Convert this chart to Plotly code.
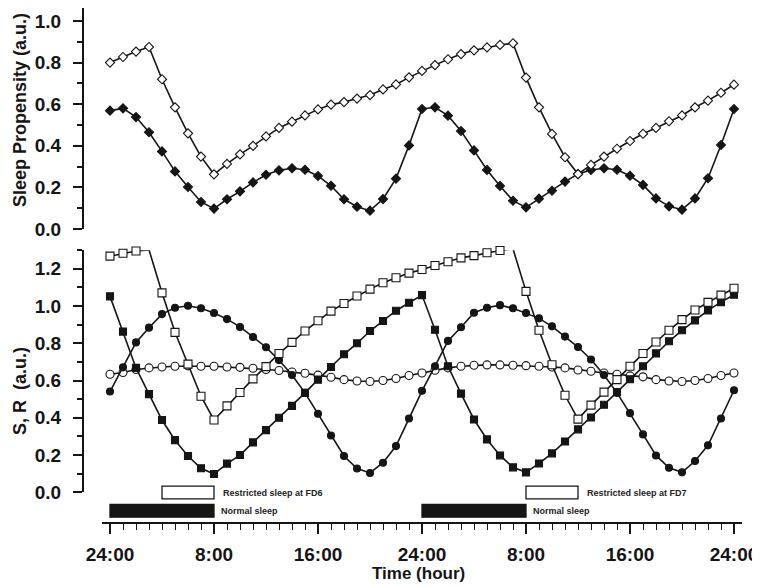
"""Sleep propensity and S/R processes over two days (FD6, FD7)."""

import plotly.graph_objects as go

HOURS = list(range(49))
TICK_HOURS = [0, 8, 16, 24, 32, 40, 48]
TICK_LABELS = ["24:00", "8:00", "16:00", "24:00", "8:00", "16:00", "24:00"]

# top panel: sleep propensity
SP_RESTRICTED = [
    0.800, 0.827, 0.853, 0.875, 0.720, 0.585, 0.460, 0.348, 0.263, 0.313,
    0.359, 0.400, 0.445, 0.486, 0.516, 0.546, 0.575, 0.598, 0.610, 0.627,
    0.644, 0.671, 0.695, 0.729, 0.760, 0.788, 0.816, 0.841, 0.859, 0.873,
    0.885, 0.893, 0.728, 0.585, 0.457, 0.345, 0.264, 0.308, 0.348, 0.386,
    0.423, 0.458, 0.486, 0.518, 0.546, 0.585, 0.617, 0.655, 0.694,
]
SP_NORMAL = [
    0.569, 0.580, 0.538, 0.465, 0.373, 0.277, 0.202, 0.130, 0.098, 0.143,
    0.181, 0.224, 0.261, 0.282, 0.292, 0.285, 0.255, 0.208, 0.143, 0.107,
    0.088, 0.144, 0.242, 0.402, 0.577, 0.585, 0.545, 0.471, 0.378, 0.284,
    0.207, 0.136, 0.104, 0.146, 0.184, 0.228, 0.264, 0.284, 0.292, 0.285,
    0.256, 0.212, 0.147, 0.109, 0.093, 0.147, 0.244, 0.404, 0.577,
]

# bottom panel: S and R
S_RESTRICTED = [
    1.268, 1.284, 1.296, 1.302, 1.071, 0.859, 0.688, 0.516, 0.388, 0.464,
    0.536, 0.609, 0.675, 0.745, 0.805, 0.866, 0.921, 0.973, 1.014, 1.054,
    1.091, 1.125, 1.152, 1.177, 1.196, 1.218, 1.238, 1.259, 1.271, 1.286,
    1.298, 1.307, 1.079, 0.870, 0.685, 0.521, 0.393, 0.468, 0.538, 0.605,
    0.677, 0.745, 0.807, 0.870, 0.927, 0.979, 1.020, 1.059, 1.096,
]
S_NORMAL = [
    1.052, 0.863, 0.668, 0.527, 0.388, 0.280, 0.195, 0.129, 0.098, 0.154,
    0.200, 0.268, 0.334, 0.400, 0.464, 0.534, 0.605, 0.673, 0.741, 0.800,
    0.866, 0.920, 0.975, 1.018, 1.059, 0.873, 0.677, 0.530, 0.391, 0.284,
    0.198, 0.134, 0.107, 0.155, 0.209, 0.273, 0.338, 0.402, 0.470, 0.538,
    0.607, 0.677, 0.746, 0.811, 0.870, 0.923, 0.977, 1.021, 1.061,
]
R_FILLED = [
    0.541, 0.671, 0.805, 0.884, 0.957, 0.991, 1.002, 0.988, 0.963, 0.930,
    0.888, 0.834, 0.779, 0.710, 0.630, 0.534, 0.422, 0.305, 0.195, 0.128,
    0.104, 0.159, 0.248, 0.396, 0.545, 0.677, 0.813, 0.886, 0.964, 0.991,
    1.005, 0.988, 0.963, 0.934, 0.891, 0.836, 0.780, 0.713, 0.630, 0.534,
    0.425, 0.311, 0.198, 0.132, 0.107, 0.168, 0.252, 0.396, 0.548,
]
R_OPEN = [
    0.634, 0.643, 0.659, 0.668, 0.673, 0.677, 0.679, 0.677, 0.677, 0.673,
    0.671, 0.666, 0.659, 0.654, 0.646, 0.639, 0.629, 0.618, 0.605, 0.598,
    0.595, 0.600, 0.611, 0.627, 0.641, 0.655, 0.668, 0.677, 0.682, 0.684,
    0.684, 0.682, 0.680, 0.677, 0.673, 0.668, 0.657, 0.650, 0.641, 0.634,
    0.625, 0.620, 0.605, 0.598, 0.595, 0.600, 0.611, 0.627, 0.641,
]

# sleep episodes (hour of start, duration)
SLEEP_ROWS = ["Normal sleep", "Restricted sleep"]
NORMAL_START = [0, 24]
NORMAL_LEN = [8, 8]
NORMAL_LABELS = ["Normal sleep", "Normal sleep"]
RESTRICTED_START = [4, 32]
RESTRICTED_LEN = [4, 4]
RESTRICTED_LABELS = ["Restricted sleep at FD6", "Restricted sleep at FD7"]

INK = "#151515"
FONT = "Liberation Sans, Arial, sans-serif"

# the page body keeps its default 8px margin, so the figure is a bit smaller
# and window pixels are converted to paper coordinates here
W, H = 752, 577


def px_x(x):
    return (x - 8) / W


def px_y(y):
    return min(1.0, (585 - y) / H)


def line_trace(values, yaxis, symbol, size, filled):
    """Чёрная линия с маркерами (закрашенными или пустыми)."""
    return go.Scatter(
        x=HOURS,
        y=values,
        yaxis=yaxis,
        mode="lines+markers",
        line={"color": INK, "width": 1.6},
        marker={
            "symbol": symbol,
            "size": size,
            "color": INK if filled else "white",
            "line": {"color": INK, "width": 1.1},
        },
        cliponaxis=False,
        showlegend=False,
        hoverinfo="skip",
    )


def sleep_bar(row, starts, lengths, filled):
    return go.Bar(
        orientation="h",
        y=[row] * len(starts),
        x=lengths,
        base=starts,
        yaxis="y3",
        width=0.7,
        marker={"color": INK if filled else "white", "line": {"color": INK, "width": 1.3}},
        showlegend=False,
        hoverinfo="skip",
    )


def y_axis(domain, rng):
    return dict(
        domain=domain,
        range=rng,
        anchor="free",
        position=px_x(83),
        showline=True,
        linecolor=INK,
        linewidth=2,
        showgrid=False,
        zeroline=False,
        ticks="outside",
        ticklen=9,
        tickwidth=1.5,
        tickcolor=INK,
        dtick=0.2,
        tick0=0,
        tickformat=".1f",
        ticklabelstandoff=8,
        tickfont={"family": FONT, "size": 19, "color": INK, "weight": "bold"},
        minor={"dtick": 0.1, "ticks": "outside", "ticklen": 5, "tickwidth": 1.5,
               "tickcolor": INK, "showgrid": False},
    )


traces = [
    line_trace(SP_NORMAL, "y", "diamond", 7, True),
    line_trace(SP_RESTRICTED, "y", "diamond", 7, False),
    line_trace(R_OPEN, "y2", "circle", 8, False),
    line_trace(R_FILLED, "y2", "circle", 7, True),
    line_trace(S_NORMAL, "y2", "square", 7, True),
    line_trace(S_RESTRICTED, "y2", "square", 8, False),
    sleep_bar(SLEEP_ROWS[0], NORMAL_START, NORMAL_LEN, True),
    sleep_bar(SLEEP_ROWS[1], RESTRICTED_START, RESTRICTED_LEN, False),
]

fig = go.Figure(traces)

label_font = {"family": FONT, "size": 9, "color": "#222", "weight": "bold"}
annotations = []
for start, length, text in zip(NORMAL_START, NORMAL_LEN, NORMAL_LABELS):
    annotations.append(dict(x=start + length, y=SLEEP_ROWS[0], xref="x", yref="y3",
                            text=text, showarrow=False, xanchor="left", xshift=5,
                            font=label_font))
for start, length, text in zip(RESTRICTED_START, RESTRICTED_LEN, RESTRICTED_LABELS):
    annotations.append(dict(x=start + length, y=SLEEP_ROWS[1], xref="x", yref="y3",
                            text=text, showarrow=False, xanchor="left", xshift=7,
                            yshift=-1, font=label_font))

title_font = {"family": FONT, "size": 18, "color": INK, "weight": "bold"}
annotations += [
    dict(x=px_x(8), y=px_y(110), xref="paper", yref="paper",
         text="Sleep Propensity (a.u.)", textangle=-90, showarrow=False,
         xanchor="left", yanchor="middle", font=title_font),
    dict(x=px_x(8), y=px_y(391), xref="paper", yref="paper",
         text="S, R&nbsp;&nbsp;(a.u.)", textangle=-90, showarrow=False,
         xanchor="left", yanchor="middle", font=title_font),
    dict(x=px_x(418), y=0, xref="paper", yref="paper",
         text="Time (hour)", showarrow=False, xanchor="center", yanchor="bottom",
         yshift=0, font={**title_font, "size": 17}),
]

# top of the upper panel lies above the figure's first row (window y = 8)
top_value = (229 - 8) / 208

fig.update_layout(
    template="none",
    width=W,
    height=H,
    margin={"l": 0, "r": 0, "t": 0, "b": 0},
    paper_bgcolor="white",
    plot_bgcolor="rgba(0,0,0,0)",
    barmode="overlay",
    showlegend=False,
    xaxis=dict(
        domain=[px_x(102), px_x(742)],
        range=[-0.615, 48.615],
        anchor="y3",
        showline=True,
        linecolor=INK,
        linewidth=2,
        showgrid=False,
        zeroline=False,
        ticks="outside",
        ticklen=10,
        tickwidth=1.5,
        tickcolor=INK,
        tickvals=TICK_HOURS,
        ticktext=TICK_LABELS,
        ticklabelstandoff=4,
        tickfont={"family": FONT, "size": 19, "color": INK, "weight": "bold"},
        minor={"dtick": 1, "tick0": 0, "ticks": "outside", "ticklen": 6,
               "tickwidth": 1.3, "tickcolor": INK, "showgrid": False},
    ),
    yaxis=y_axis([px_y(229), 1.0], [0, top_value]),
    yaxis2=y_axis([px_y(492.3), px_y(250.2)], [0, 1.3]),
    yaxis3=dict(
        domain=[px_y(522.3), px_y(484)],
        range=[-0.628, 1.464],
        type="category",
        categoryorder="array",
        categoryarray=SLEEP_ROWS,
        visible=False,
        fixedrange=True,
    ),
    annotations=annotations,
)

fig.write_html("out.html")
